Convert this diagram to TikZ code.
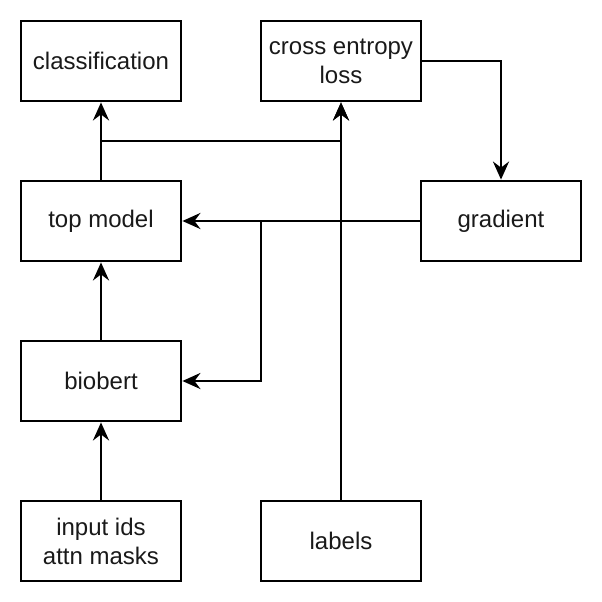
\documentclass[tikz,border=0pt]{standalone}
\usepackage{fontspec}
\setmainfont{Liberation Sans}
\usetikzlibrary{arrows.meta}
\tikzset{
  box/.style={draw, line width=2.8pt, minimum width=160pt, minimum height=80pt, inner sep=0pt, align=center, font=\fontsize{24}{29}\selectfont, text=black!90},
  arr/.style={line width=2.8pt, -{Stealth[length=18pt, width=16pt, inset=6pt]}},
  ln/.style={line width=2.8pt}
}
\begin{document}
\begin{tikzpicture}[x=1pt,y=-1pt]
\useasboundingbox (0,0) rectangle (602,602);
\node[box] (cls) at (101,61) {classification};
\node[box] (cel) at (341,61) {cross entropy\\loss};
\node[box] (top) at (101,221) {top model};
\node[box] (grad) at (501,221) {gradient};
\node[box] (bio) at (101,381) {biobert};
\node[box] (inp) at (101,541) {input ids\\attn masks};
\node[box] (lab) at (341,541) {labels};
\coordinate (j1) at (341,141);
\coordinate (j2) at (261,221);
\draw[arr] (top.north) -- (cls.south);
\draw[arr] (top.north) |- (j1) -- (cel.south);
\draw[arr] (lab.north) -- (cel.south);
\draw[arr] (cel.east) -| (grad.north);
\draw[arr] (grad.west) -- (top.east);
\draw[arr] (grad.west) -- (j2) |- (bio.east);
\draw[arr] (bio.north) -- (top.south);
\draw[arr] (inp.north) -- (bio.south);
\end{tikzpicture}
\end{document}
